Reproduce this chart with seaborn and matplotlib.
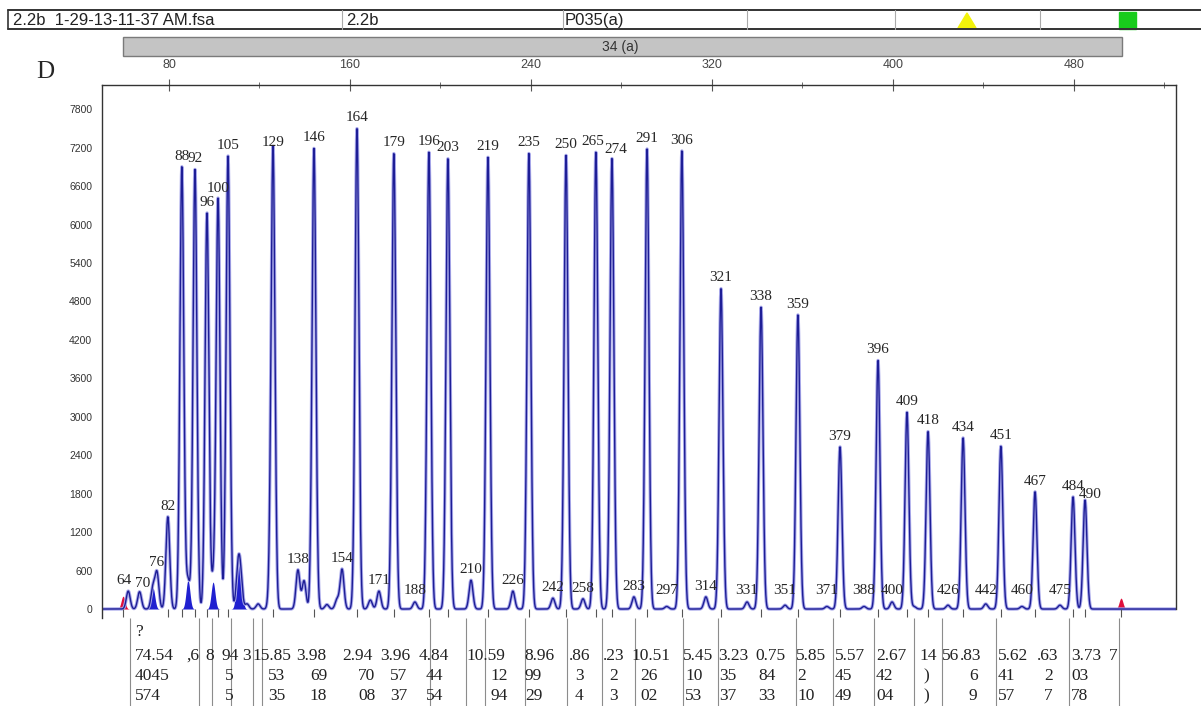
import numpy as np
import matplotlib
matplotlib.use("Agg")
from matplotlib import pyplot as plt
from matplotlib.patches import Rectangle, Polygon
from matplotlib.lines import Line2D
from matplotlib.ticker import MultipleLocator
import seaborn as sns

# labelled peaks: size call, position on the top (size) axis, height in RFU
peak_labels = [64, 70, 76, 82, 88, 92, 96, 100, 105, 129, 138, 146, 154, 164, 171,
               179, 188, 196, 203, 210, 219, 226, 235, 242, 250, 258, 265, 274, 283,
               291, 297, 306, 314, 321, 331, 338, 351, 359, 371, 379, 388, 396, 400,
               409, 418, 426, 434, 442, 451, 460, 467, 475, 484, 490]
peak_pos = [62.0, 67.0, 74.7, 79.5, 85.7, 91.5, 96.8, 101.7, 106.1, 126.0, 137.0,
            144.1, 156.5, 163.1, 172.8, 179.4, 188.7, 194.9, 203.3, 213.5, 221.0,
            232.0, 239.1, 249.7, 255.5, 263.0, 268.7, 275.8, 285.5, 291.3, 300.0,
            306.7, 317.3, 324.0, 335.5, 341.7, 352.3, 358.0, 370.8, 376.6, 387.2,
            393.4, 399.6, 406.2, 415.5, 424.3, 431.0, 441.0, 447.7, 457.0, 462.8,
            473.8, 479.6, 484.9]
peak_height = [280, 270, 560, 1440, 6900, 6860, 6180, 6400, 7070, 7110, 610, 7190,
               620, 7500, 280, 7110, 110, 7130, 7030, 450, 7050, 280, 7110, 170, 7080,
               160, 7130, 7030, 190, 7180, 40, 7150, 190, 5000, 110, 4710, 60, 4590,
               40, 2530, 40, 3880, 110, 3070, 2770, 60, 2670, 80, 2540, 40, 1830, 60,
               1750, 1700]

# unlabelled bumps (outline only)
minor_pos = [139.7, 124.8, 114.5, 119.4, 149.8, 154.3, 169.0, 409.3]
minor_height = [440, 300, 80, 80, 70, 150, 140, 40]

# unlabelled bumps drawn filled
filled_pos = [72.9, 88.4, 99.5, 110.5, 111.6]
filled_height = [330, 450, 420, 580, 480]

# red dye
red_pos = [59.7, 500.8]
red_height = [200, 170]

# table under the trace
table_lines = [62.8, 93.3, 99.0, 107.2, 117.0, 121.1, 195.4, 211.3, 219.7, 237.2,
               255.9, 271.4, 286.0, 307.2, 322.7, 357.1, 373.5, 391.6, 409.3, 421.7,
               445.5, 477.8, 499.9]
row2_text = ["74.54", ",6", "8", "94", "3", "15.85", "3.98", "2.94", "3.96", "4.84",
             "10.59", "8.96", ".86", ".23", "10.51", "5.45", "3.23", "0.75", "5.85",
             "5.57", "2.67", "14", "56", ".83", "5.62", ".63", "3.73", "7"]
row2_x = [65.0, 87.5, 95.9, 103.0, 112.3, 116.7, 136.1, 156.5, 173.3, 190.5, 211.7,
          237.3, 256.8, 271.8, 284.2, 307.2, 322.7, 339.4, 357.1, 374.3, 392.5,
          411.5, 421.7, 429.6, 446.4, 463.6, 478.7, 495.5]
row3_text = ["4045", "5", "53", "69", "70", "57", "44", "12", "99", "3", "2", "26",
             "10", "35", "84", "2", "45", "42", ")", "6", "41", "2", "03"]
row4_text = ["574", "5", "35", "18", "08", "37", "54", "94", "29", "4", "3", "02",
             "53", "37", "33", "10", "49", "04", ")", "9", "57", "7", "78"]
row34_x = [65.0, 104.8, 123.8, 142.3, 163.5, 177.7, 193.6, 221.9, 237.3, 259.4,
           274.5, 288.2, 308.1, 323.1, 340.3, 357.6, 374.3, 392.5, 413.3, 433.6,
           446.4, 466.7, 478.7]

x_ticks = [80, 160, 240, 320, 400, 480]
y_ticks = list(range(0, 7801, 600))

W, H = 1201, 706
XMIN, XMAX = 50.4, 525.1
YMIN, YMAX = -140, 8178
SIGMA = 0.85
# a few labels sit off-centre in the reference (points)
label_nudge = {64: (-3, 0), 70: (2, -2), 265: (-2, 0), 274: (3, -1), 490: (4, -4)}


def fx(px):
    return px / W


def fy(py):
    return 1 - py / H


def peaks(x, pos, height):
    out = np.zeros_like(x)
    for p, h in zip(pos, height):
        out += h * np.exp(-0.5 * ((x - p) / SIGMA) ** 2)
    return out


sns.set_style("white")
plt.rcParams["font.family"] = ["Liberation Sans", "DejaVu Sans"]

fig = plt.figure(figsize=(W / 100, H / 100), dpi=100)

ax = fig.add_axes([fx(102), fy(618), fx(1176) - fx(102), fy(85) - fy(618)])
grid = np.linspace(XMIN, XMAX, 9000)
trace = (peaks(grid, peak_pos, peak_height) + peaks(grid, minor_pos, minor_height)
         + peaks(grid, filled_pos, filled_height))
ax.fill_between(grid, 0, peaks(grid, filled_pos, filled_height), color="#2020d0", lw=0)
sns.lineplot(x=grid, y=trace, ax=ax, color="#a9a9ea", lw=2.4, estimator=None)
sns.lineplot(x=grid, y=trace, ax=ax, color="#1e1e96", lw=1.0, estimator=None)
ax.fill_between(grid, 0, peaks(grid, red_pos, red_height), color="#e0103c", lw=0)

bins = [p for p, h in zip(peak_pos, peak_height) if h > 1000] + red_pos
ax.vlines(bins, -130, 0, color="#555555", lw=0.8)

for lab, p, h in zip(peak_labels, peak_pos, peak_height):
    dx, dy = label_nudge.get(lab, (0, 0))
    ax.annotate(str(lab), xy=(p, max(h, 130)), xytext=(dx, 3 + dy),
                textcoords="offset points", ha="center", va="bottom",
                fontsize=11, family="Liberation Serif")

ax.set_xlim(XMIN, XMAX)
ax.set_ylim(YMIN, YMAX)
ax.xaxis.tick_top()
ax.set_xticks(x_ticks)
ax.xaxis.set_minor_locator(MultipleLocator(40))
ax.set_yticks(y_ticks)
ax.yaxis.set_minor_locator(MultipleLocator(200))
ax.tick_params(axis="x", which="both", direction="inout", colors="#555555",
               labelcolor="#444444", labelsize=9, pad=6)
ax.tick_params(axis="y", which="both", direction="inout", colors="#555555",
               labelcolor="#333333", labelsize=7.5, pad=3)
ax.tick_params(which="major", length=8, width=0.8)
ax.tick_params(which="minor", length=5, width=0.6)
ax.spines["bottom"].set_visible(False)
ax.spines["right"].set_bounds(0, YMAX)
for s in ["top", "left", "right"]:
    ax.spines[s].set_color("#333333")
    ax.spines[s].set_linewidth(1.0)
ax.set_xlabel("")
ax.set_ylabel("")

# table below the trace
axt = fig.add_axes([fx(102), 0, fx(1176) - fx(102), fy(618)])
axt.set_xlim(XMIN, XMAX)
axt.set_ylim(88, 0)
axt.axis("off")
axt.vlines(table_lines, 0, 88, color="#8c8c8c", lw=0.8)
tfont = dict(ha="left", va="center", fontsize=12.5, family="Liberation Serif", color="#222222")
axt.text(65.0, 14, "?", **tfont)
for t, x in zip(row2_text, row2_x):
    axt.text(x, 38, t, **tfont)
for t3, t4, x in zip(row3_text, row4_text, row34_x):
    axt.text(x, 58, t3, **tfont)
    axt.text(x, 78, t4, **tfont)

# header strip
for py in [10, 29]:
    fig.add_artist(Line2D([fx(8), fx(1201)], [fy(py), fy(py)], color="#333333", lw=1.4))
fig.add_artist(Line2D([fx(8), fx(8)], [fy(10), fy(29)], color="#333333", lw=1.2))
for px in [342, 563, 747, 895, 1040]:
    fig.add_artist(Line2D([fx(px), fx(px)], [fy(10), fy(29)], color="#aaaaaa", lw=0.8))
fig.text(fx(13), fy(20.5), "2.2b  1-29-13-11-37 AM.fsa", fontsize=12, va="center", color="#222222")
fig.text(fx(346), fy(20.5), "2.2b", fontsize=12, va="center", color="#222222")
fig.text(fx(565), fy(20.5), "P035(a)", fontsize=12, va="center", color="#222222")
fig.add_artist(Polygon([[fx(958), fy(28)], [fx(976), fy(28)], [fx(967), fy(13)]],
                       closed=True, color="#f2f20a", transform=fig.transFigure))
fig.add_artist(Rectangle((fx(1119), fy(29)), fx(17), fy(12) - fy(29), color="#18cc1c",
                         transform=fig.transFigure))

# grey bar
fig.add_artist(Rectangle((fx(123), fy(56)), fx(1122) - fx(123), fy(37) - fy(56),
                         facecolor="#c4c4c4", edgecolor="#7a7a7a", lw=1.0,
                         transform=fig.transFigure))
fig.text(fx(620), fy(46.5), "34 (a)", fontsize=10, ha="center", va="center", color="#333333")

fig.text(fx(45), fy(72), "D", fontsize=18, ha="center", va="center", family="Liberation Serif")

plt.savefig("out.png", dpi=100)
